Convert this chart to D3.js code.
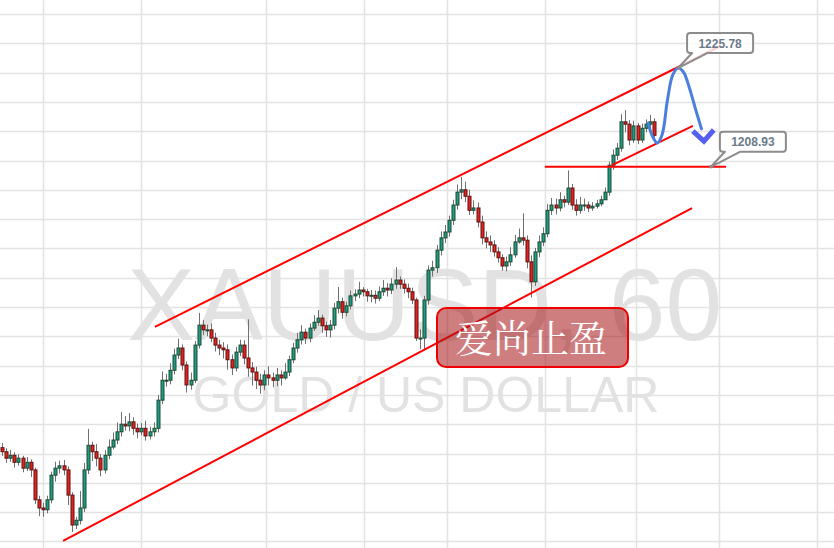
<!DOCTYPE html>
<html><head><meta charset="utf-8">
<script src="https://cdn.jsdelivr.net/npm/d3@7/dist/d3.min.js"></script>
<style>html,body{margin:0;padding:0;background:#fff;}svg{display:block;}</style>
</head><body>
<svg id="chart" width="834" height="548"></svg>
<script>
// ---- data ----
const opens = [1161.0,1160.3,1159.2,1159.7,1158.5,1159.2,1157.5,1158.5,1157.2,1152.1,
1150.7,1150.4,1152.1,1156.3,1157.5,1157.9,1157.2,1152.9,1147.8,1148.6,
1150.7,1157.2,1161.4,1160.3,1159.2,1157.2,1159.7,1161.1,1162.3,1163.7,
1165.0,1164.7,1165.4,1164.3,1163.7,1164.3,1163.0,1163.7,1164.3,1169.1,
1172.5,1172.5,1174.2,1176.8,1178.0,1175.1,1171.7,1172.5,1178.5,1181.9,
1181.1,1181.1,1179.7,1178.5,1178.0,1177.7,1176.0,1174.6,1177.3,1178.5,
1176.3,1174.6,1173.9,1172.5,1171.7,1173.4,1172.9,1172.5,1173.4,1172.9,
1173.9,1176.0,1178.0,1179.4,1180.7,1179.7,1181.4,1182.4,1183.1,1181.8,
1181.1,1181.9,1184.8,1185.9,1184.1,1185.2,1186.9,1187.2,1187.9,1187.6,
1186.9,1187.0,1186.5,1187.6,1188.2,1187.9,1188.9,1189.6,1188.9,1188.2,
1187.6,1186.2,1179.7,1179.7,1186.2,1191.3,1191.7,1194.7,1196.8,1197.8,
1199.8,1202.4,1204.6,1205.0,1203.9,1201.5,1201.9,1199.5,1196.8,1196.1,
1195.6,1194.4,1193.4,1192.0,1192.7,1193.9,1196.1,1196.8,1196.4,1192.7,
1189.3,1194.4,1196.1,1197.5,1201.5,1202.4,1201.9,1203.3,1202.9,1205.3,
1202.4,1201.5,1202.4,1202.4,1201.9,1202.2,1202.6,1203.3,1204.6,1209.2,
1210.9,1212.1,1216.6,1216.2,1213.5,1215.9,1213.5,1215.5,1216.2,1216.6];
const highs = [1161.8,1160.9,1160.6,1160.2,1159.9,1159.6,1159.4,1159.0,1157.6,1152.8,
1151.6,1152.8,1156.9,1158.6,1158.8,1158.9,1157.8,1153.4,1149.2,1153.6,
1158.4,1164.2,1162.0,1161.6,1159.9,1160.6,1162.4,1163.6,1165.3,1167.1,
1166.4,1166.9,1166.2,1165.1,1165.2,1165.6,1164.6,1165.3,1170.0,1174.0,
1173.6,1175.4,1177.9,1179.6,1178.6,1175.7,1173.8,1179.2,1184.0,1182.8,
1182.0,1182.2,1180.6,1179.4,1179.0,1178.6,1176.9,1178.2,1179.4,1179.3,
1182.9,1175.6,1174.8,1173.6,1174.2,1174.9,1173.8,1174.6,1174.2,1175.4,
1176.7,1178.9,1180.6,1181.9,1181.3,1182.2,1183.6,1184.5,1183.7,1182.5,
1182.8,1185.7,1188.4,1186.6,1185.9,1187.8,1188.0,1189.3,1188.4,1188.1,
1187.9,1187.8,1188.5,1189.6,1189.1,1189.9,1191.8,1190.2,1189.7,1189.0,
1188.3,1186.6,1181.2,1186.9,1192.1,1192.9,1195.6,1197.9,1199.0,1200.6,
1203.3,1205.9,1207.2,1206.4,1205.0,1203.2,1202.8,1200.6,1197.9,1197.2,
1196.4,1195.2,1194.0,1193.6,1195.2,1197.3,1198.4,1201.0,1197.2,1193.8,
1195.1,1197.2,1198.6,1202.6,1203.6,1203.5,1204.6,1204.0,1208.3,1206.0,
1203.4,1203.8,1203.5,1203.0,1202.9,1203.3,1204.0,1205.4,1209.8,1211.9,
1213.0,1217.9,1218.6,1216.9,1216.8,1216.4,1216.3,1217.0,1217.8,1217.2];
const lows = [1159.6,1158.4,1158.6,1157.6,1157.9,1156.8,1157.0,1156.0,1151.4,1149.3,
1149.2,1149.8,1151.5,1155.2,1156.6,1156.3,1151.2,1146.6,1147.1,1147.9,
1150.0,1156.5,1158.7,1157.8,1156.1,1156.6,1159.0,1160.7,1161.6,1162.9,
1163.9,1163.8,1163.2,1162.6,1163.1,1162.2,1162.4,1162.9,1163.6,1168.4,
1171.4,1171.8,1173.5,1176.1,1174.2,1170.4,1170.9,1172.0,1177.9,1180.2,
1180.0,1179.0,1177.4,1176.8,1176.2,1174.3,1173.4,1174.0,1176.6,1175.2,
1173.1,1171.6,1171.0,1170.2,1170.8,1171.6,1171.3,1171.5,1171.6,1172.6,
1173.2,1175.4,1177.2,1178.6,1178.7,1179.0,1180.9,1181.8,1180.6,1179.9,
1179.8,1181.2,1183.9,1183.0,1183.4,1184.6,1186.0,1186.5,1186.8,1185.9,
1185.8,1185.6,1186.0,1186.9,1186.8,1187.2,1188.1,1188.1,1187.3,1186.5,
1185.5,1179.2,1177.8,1177.6,1185.4,1190.2,1190.8,1193.8,1195.9,1197.0,
1199.0,1201.6,1203.4,1202.9,1200.7,1200.8,1198.6,1195.7,1195.0,1194.4,
1193.6,1192.6,1191.2,1191.1,1192.0,1193.4,1195.8,1195.5,1191.6,1186.6,
1188.6,1193.5,1195.4,1196.9,1200.7,1200.8,1201.3,1202.0,1202.4,1201.6,
1200.6,1200.9,1201.4,1201.2,1201.4,1201.8,1202.2,1203.5,1204.0,1208.4,
1210.1,1211.5,1214.8,1212.6,1213.0,1212.8,1213.0,1214.8,1215.4,1213.6];
const closes = [1160.3,1159.2,1159.7,1158.5,1159.2,1157.5,1158.5,1157.2,1152.1,1150.7,
1150.4,1152.1,1156.3,1157.5,1157.9,1157.2,1152.9,1147.8,1148.6,1150.7,
1157.2,1161.4,1160.3,1159.2,1157.2,1159.7,1161.1,1162.3,1163.7,1165.0,
1164.7,1165.4,1164.3,1163.7,1164.3,1163.0,1163.7,1164.3,1169.1,1172.5,
1172.5,1174.2,1176.8,1178.0,1175.1,1171.7,1172.5,1178.5,1181.9,1181.1,
1181.1,1179.7,1178.5,1178.0,1177.7,1176.0,1174.6,1177.3,1178.5,1176.3,
1174.6,1173.9,1172.5,1171.7,1173.4,1172.9,1172.5,1173.4,1172.9,1173.9,
1176.0,1178.0,1179.4,1180.7,1179.7,1181.4,1182.4,1183.1,1181.8,1181.1,
1181.9,1184.8,1185.9,1184.1,1185.2,1186.9,1187.2,1187.9,1187.6,1186.9,
1187.0,1186.5,1187.6,1188.2,1187.9,1188.9,1189.6,1188.9,1188.2,1187.6,
1186.2,1179.7,1179.7,1186.2,1191.3,1191.7,1194.7,1196.8,1197.8,1199.8,
1202.4,1204.6,1205.0,1203.9,1201.5,1201.9,1199.5,1196.8,1196.1,1195.6,
1194.4,1193.4,1192.0,1192.7,1193.9,1196.1,1196.8,1196.4,1192.7,1189.3,
1194.4,1196.1,1197.5,1201.5,1202.4,1201.9,1203.3,1202.9,1205.3,1202.4,
1201.5,1202.4,1202.4,1201.9,1202.2,1202.6,1203.3,1204.6,1209.2,1210.9,
1212.1,1216.6,1216.2,1213.5,1215.9,1213.5,1215.5,1216.2,1216.6,1214.3];

// price grid levels and time grid (bar index of day boundaries)
const priceTicks = [1145,1150,1155,1160,1165,1170,1175,1180,1185,1190,1195,1200,1205,1210,1215,1220,1225,1230,1235];
const timeTicks = [10, 33.9, 64.4, 88.3, 108.5, 132.4, 154.6, 174.9, 198.8];

// drawings: [barIndex, price]
const upperChannel = [[37.3, 1181.6], [175.1, 1229.5]];
const lowerChannel = [[14.9, 1145.07], [168.3, 1201.89]];
const hLine = [[132.4, 1208.93], [176.6, 1208.93]];
const supportLine = [[148.8, 1209.2], [168.5, 1215.9]];
const forecastPath = [[157.6,1216.4],[158.6,1214.2],[159.8,1213.0],[161.0,1214.4],[162.3,1220.3],[163.6,1224.6],[164.9,1225.78],[166.2,1225.1],[167.7,1222.3],[169.1,1218.9],[170.6,1215.4]];
const arrowHead = [[168.5,1215.0],[171.2,1213.3],[173.6,1215.2]];
const callouts = [{label:"1225.78", at:[164.9,1225.78]}, {label:"1208.93", at:[172.9,1208.93]}];
const watermark1 = "XAUUSD, 60";
const watermark2 = "GOLD / US DOLLAR";
const noteText = "爱尚止盈";

// ---- scales ----
const W = 834, H = 548;
const x = d3.scaleLinear().domain([-2/4.1, 832/4.1]).range([0, W]);
const y = d3.scaleLinear().domain([1235, 1145]).range([14, 14 + 90*5.86]);

const svg = d3.select("#chart");
svg.append("rect").attr("width", W).attr("height", H).attr("fill", "#fff");

// grid
const grid = svg.append("g");
grid.selectAll("line.h").data(priceTicks).join("line")
  .attr("x1", 0).attr("x2", W)
  .attr("y1", d => Math.round(y(d)) + 0.5).attr("y2", d => Math.round(y(d)) + 0.5)
  .attr("stroke", "#e3e3e3").attr("stroke-width", 1.6);
grid.selectAll("line.v").data(timeTicks).join("line")
  .attr("y1", 0).attr("y2", H)
  .attr("x1", d => Math.round(x(d)) + 0.5).attr("x2", d => Math.round(x(d)) + 0.5)
  .attr("stroke", "#e3e3e3").attr("stroke-width", 1.6);

// watermark
svg.append("text").attr("x", 424.5).attr("y", 340).attr("text-anchor", "middle")
  .attr("font-family", "'Liberation Sans', Arial, sans-serif").attr("font-size", 102)
  .attr("fill", "#e2e2e2").text(watermark1);
svg.append("text").attr("x", 426).attr("y", 412).attr("text-anchor", "middle")
  .attr("font-family", "'Liberation Sans', Arial, sans-serif").attr("font-size", 50)
  .attr("fill", "#e2e2e2").text(watermark2);

// candles
const idx = d3.range(closes.length);
const cg = svg.append("g");
cg.selectAll("line.wick").data(idx).join("line")
  .attr("x1", i => Math.round(x(i)) + 0.5).attr("x2", i => Math.round(x(i)) + 0.5)
  .attr("y1", i => y(highs[i])).attr("y2", i => y(lows[i]))
  .attr("stroke", "#707070").attr("stroke-width", 1);
cg.selectAll("rect.body").data(idx).join("rect")
  .attr("x", i => Math.round(x(i)) - 1)
  .attr("width", 3)
  .attr("y", i => y(Math.max(opens[i], closes[i])))
  .attr("height", i => Math.max(1, Math.abs(y(opens[i]) - y(closes[i]))))
  .attr("fill", i => closes[i] >= opens[i] ? "#1f9a86" : "#e3231c")
  .attr("stroke", i => closes[i] >= opens[i] ? "#1d4a30" : "#5e1212")
  .attr("stroke-width", 1);

// trend lines
const line = d3.line().x(d => x(d[0])).y(d => y(d[1]));
[upperChannel, lowerChannel, hLine, supportLine].forEach(seg => {
  svg.append("path").attr("d", line(seg)).attr("fill", "none")
    .attr("stroke", "#ff0000").attr("stroke-width", 2);
});

// forecast curve
svg.append("path").attr("d", line.curve(d3.curveCatmullRom)(forecastPath))
  .attr("fill", "none").attr("stroke", "#4a7fe0").attr("stroke-width", 3).attr("stroke-linecap", "round");
svg.append("path").attr("d", d3.line().x(d => x(d[0])).y(d => y(d[1]))(arrowHead))
  .attr("fill", "none").attr("stroke", "#5660f0").attr("stroke-width", 5)
  .attr("stroke-linejoin", "miter").attr("stroke-linecap", "butt");

// note box
const nb = svg.append("g");
nb.append("rect").attr("x", 437).attr("y", 308).attr("width", 191).attr("height", 59)
  .attr("rx", 9).attr("fill", "rgba(165,20,22,0.55)").attr("stroke", "#ee0000").attr("stroke-width", 2);
nb.append("text").attr("x", 531).attr("y", 352).attr("text-anchor", "middle")
  .attr("font-family", "'Noto Serif CJK SC', 'Noto Sans CJK SC', serif").attr("font-size", 38)
  .attr("fill", "#fff").text(noteText);

// callouts
callouts.forEach(c => {
  const px = x(c.at[0]), py = y(c.at[1]);
  const l = px + 9, t = py - 35, w = 66, h = 20, r = 3, b = t + h, rt = l + w;
  const p = `M${l+r},${t} H${rt-r} Q${rt},${t} ${rt},${t+r} V${b-r} Q${rt},${b} ${rt-r},${b} H${l+20} L${px},${py} L${l+5},${b} H${l+r} Q${l},${b} ${l},${b-r} V${t+r} Q${l},${t} ${l+r},${t} Z`;
  svg.append("path").attr("d", p).attr("fill", "rgba(255,255,255,0.82)")
    .attr("stroke", "#8c8c8c").attr("stroke-width", 2).attr("stroke-linejoin", "round");
  svg.append("rect").attr("x", px - 1.5).attr("y", py - 1.5).attr("width", 3).attr("height", 3).attr("fill", "#8a8a8a");
  svg.append("text").attr("x", l + w/2).attr("y", t + 14.5).attr("text-anchor", "middle")
    .attr("font-family", "'Liberation Sans', Arial, sans-serif").attr("font-size", 12).attr("font-weight", "bold")
    .attr("fill", "#6a7a8a").text(c.label);
});
</script>
</body></html>
